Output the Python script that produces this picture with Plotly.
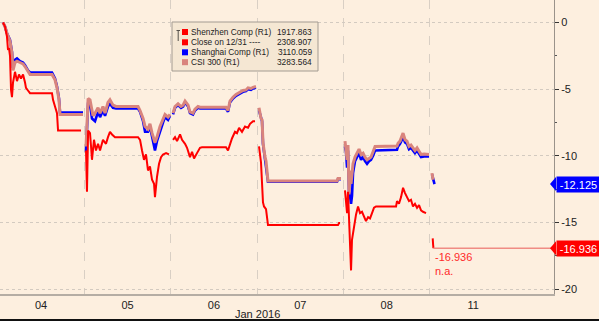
import plotly.graph_objects as go

# ---------------- data (x = trading-day position, 0 = Jan 04 open; y = % change vs 12/31 close)
day_labels = ["04", "05", "06", "07", "08", "11"]
day_centers = [0.5, 1.5, 2.5, 3.5, 4.5, 5.5]
day_bounds = [1, 2, 3, 4, 5]
month_label = "Jan 2016"
y_ticks = [0, -5, -10, -15, -20]

shenzhen_pos = [0.059, 0.082, 0.105, 0.117, 0.128, 0.140, 0.152, 0.163, 0.175, 0.198, 0.221, 0.244, 0.267,
                0.291, 0.314, 0.325, 0.348, 0.372, 0.626, 0.638, 0.661, 0.684, 0.696, 0.962, None,
                1.020, 1.031, 1.044, 1.066, 1.078, 1.089, 1.112, 1.135, 1.159, 1.182, 1.216, 1.251, 1.274,
                1.297, 1.321, 1.355, 1.622, 1.645, 1.668, 1.691, 1.714, 1.737, 1.760, 1.784, 1.807, 1.818,
                1.841, 1.865, 1.888, 1.911, 1.946, 1.980, None,
                2.027, 2.050, 2.073, 2.108, 2.131, 2.166, 2.189, 2.223, 2.247, 2.270, 2.304, 2.339, 2.362,
                2.640, 2.663, 2.686, 2.709, 2.744, 2.767, 2.791, 2.825, 2.860, 2.895, 2.918, 2.953, 2.976, None,
                3.022, 3.045, 3.068, 3.080, 3.103, 3.126, 3.936, 3.948, 3.960, None,
                4.017, 4.029, 4.041, 4.052, 4.064, 4.075, 4.087, 4.098, 4.110, 4.122, 4.133, 4.145, 4.168,
                4.191, 4.214, 4.237, 4.260, 4.284, 4.307, 4.330, 4.353, 4.376, 4.608, 4.619, 4.642, 4.666,
                4.689, 4.712, 4.735, 4.758, 4.781, 4.804, 4.827, 4.851, 4.874, 4.897, 4.920, 4.955, None,
                5.032, 5.040]
shenzhen_pct = [0, -0.3, -1.06, -2.06, -1.9, -2.5, -5.06, -5.6, -4.5, -3.7, -4.4, -3.9, -4.2,
                -3.9, -4.5, -4.9, -5.1, -5.3, -5.3, -5.8, -6.3, -6.8, -8.1, -8.1, None,
                -9.6, -12.7, -8.1, -8.3, -9.3, -10.3, -8.8, -9.6, -9.1, -9.6, -8.8, -9.1, -8.6,
                -8.2, -8.4, -8.6, -8.6, -8.8, -9.6, -10.3, -9.9, -11.1, -10.8, -11.8, -12.1, -13.1,
                -11.6, -10.6, -10.1, -9.9, -9.8, -9.9, None,
                -8.8, -8.6, -8.9, -8.4, -8.8, -9.1, -9.4, -10.1, -9.7, -10.2, -9.8, -9.4, -9.36,
                -9.36, -9.6, -9.1, -8.7, -8.2, -8.3, -7.9, -8.2, -7.8, -7.9, -7.6, -7.4, -7.4, None,
                -9.3, -10.5, -13.5, -13.8, -14.0, -15.2, -15.2, -15.05, -15.05, None,
                -12.6, -13.6, -14.3, -12.7, -15.3, -16.8, -18.6, -16.3, -15.8, -15.1, -14.8, -14.4, -13.8,
                -14.3, -14.2, -14.6, -14.9, -14.6, -14.7, -14.3, -13.9, -13.8, -13.8, -13.4, -13.6, -13.1,
                -12.4, -12.8, -13.1, -13.4, -13.3, -13.8, -13.6, -13.9, -13.7, -14.1, -14.2, -14.3, None,
                -16.2, -16.936]

csi300_pos = [0.059, 0.082, 0.105, 0.140, 0.163, 0.175, 0.198, 0.221, 0.256, 0.291, 0.314, 0.348, 0.372,
              0.626, 0.661, 0.684, 0.707, 0.719, 0.985, None,
              1.020, 1.044, 1.066, 1.089, 1.101, 1.124, 1.159, 1.182, 1.216, 1.240, 1.274, 1.297, 1.332,
              1.367, 1.622, 1.645, 1.680, 1.703, 1.737, 1.760, 1.784, 1.818, 1.841, 1.876, 1.911, 1.934,
              1.969, 1.992, None,
              2.027, 2.050, 2.085, 2.119, 2.143, 2.166, 2.201, 2.223, 2.258, 2.281, 2.316, 2.339, 2.640,
              2.663, 2.686, 2.721, 2.756, 2.779, 2.814, 2.837, 2.872, 2.895, 2.929, 2.953, 2.987, None,
              3.022, 3.045, 3.057, 3.068, 3.091, 3.103, 3.126, 3.925, 3.936, 3.971, None,
              4.017, 4.029, 4.041, 4.052, 4.064, 4.075, 4.087, 4.110, 4.133, 4.156, 4.180, 4.203, 4.226,
              4.249, 4.272, 4.295, 4.318, 4.342, 4.365, 4.619, 4.631, 4.654, 4.689, 4.712, 4.735, 4.758,
              4.781, 4.804, 4.827, 4.851, 4.874, 4.897, 4.932, 4.990, None,
              5.024, 5.036]
csi300_pct = [0, -0.3, -0.8, -1.4, -2.3, -3.6, -3.0, -2.9, -3.0, -3.1, -3.3, -3.7, -3.9,
              -3.9, -4.3, -4.9, -5.8, -6.9, -6.9, None,
              -9.3, -5.7, -5.8, -6.8, -7.0, -6.8, -6.4, -6.8, -6.3, -6.8, -6.0, -5.8, -6.2,
              -6.3, -6.3, -6.6, -7.2, -7.8, -8.0, -7.6, -8.3, -9.0, -8.6, -7.8, -7.3, -6.9,
              -7.1, -6.9, None,
              -6.8, -6.3, -6.1, -6.3, -6.2, -5.9, -6.2, -6.7, -6.8, -6.5, -6.3, -6.35, -6.35,
              -6.6, -5.9, -5.6, -5.4, -5.3, -5.2, -5.1, -5.06, -4.9, -4.95, -4.86, -4.8, None,
              -6.4, -7.2, -7.3, -9.0, -10.1, -10.4, -11.9, -11.9, -11.7, -11.7, None,
              -8.9, -9.7, -10.3, -9.2, -12.9, -11.1, -12.1, -10.6, -10.1, -9.8, -9.5, -9.9, -9.8,
              -10.1, -10.3, -10.2, -10.1, -9.7, -9.3, -9.26, -9.06, -8.9, -8.3, -8.8, -8.9, -9.3,
              -9.2, -9.4, -9.6, -9.4, -9.7, -9.9, -9.87, -9.9, None,
              -11.3, -11.8]

shanghai_pos = [0.059, 0.082, 0.105, 0.140, 0.163, 0.175, 0.198, 0.221, 0.256, 0.291, 0.314, 0.348, 0.372,
                0.626, 0.661, 0.684, 0.707, 0.719, 0.985, None,
                1.020, 1.044, 1.066, 1.089, 1.124, 1.159, 1.182, 1.216, 1.240, 1.274, 1.297, 1.332,
                1.367, 1.622, 1.645, 1.680, 1.703, 1.737, 1.760, 1.784, 1.818, 1.841, 1.876, 1.911, 1.934,
                1.969, 1.992, None,
                2.027, 2.050, 2.085, 2.119, 2.143, 2.166, 2.201, 2.223, 2.258, 2.281, 2.316, 2.339, 2.640,
                2.663, 2.686, 2.721, 2.756, 2.779, 2.814, 2.837, 2.872, 2.895, 2.929, 2.953, 2.987, None,
                3.022, 3.045, 3.057, 3.068, 3.091, 3.103, 3.126, 3.925, 3.936, 3.971, None,
                4.017, 4.029, 4.041, 4.052, 4.064, 4.075, 4.087, 4.098, 4.110, 4.133, 4.156, 4.180, 4.203,
                4.226, 4.249, 4.272, 4.295, 4.318, 4.342, 4.365, 4.619, 4.631, 4.654, 4.689, 4.712, 4.735,
                4.758, 4.781, 4.804, 4.827, 4.851, 4.874, 4.897, 4.932, 4.990, None,
                5.024, 5.053]
shanghai_pct = [0, -0.3, -0.8, -1.3, -2.2, -3.4, -2.8, -2.7, -2.9, -3.0, -3.2, -3.6, -3.75,
                -3.75, -4.2, -4.8, -5.7, -6.75, -6.75, None,
                -9.7, -6.0, -6.1, -7.2, -7.4, -6.7, -7.1, -6.6, -7.0, -6.3, -6.1, -6.4,
                -6.45, -6.45, -6.7, -7.4, -8.2, -8.2, -7.8, -8.6, -9.6, -8.9, -8.1, -7.5, -7.1,
                -7.3, -7.0, None,
                -6.9, -6.4, -6.2, -6.4, -6.3, -6.0, -6.3, -6.8, -6.9, -6.6, -6.4, -6.45, -6.45,
                -6.7, -6.0, -5.7, -5.5, -5.4, -5.3, -5.2, -5.15, -5.0, -5.05, -4.95, -4.9, None,
                -6.6, -7.3, -7.4, -9.1, -10.2, -10.5, -11.95, -11.95, -11.75, -11.75, None,
                -9.3, -9.7, -10.9, -9.6, -12.7, -13.0, -13.6, -13.0, -11.3, -10.4, -10.1, -9.8, -10.3,
                -10.1, -10.4, -10.6, -10.4, -10.3, -10.0, -9.6, -9.55, -9.3, -9.1, -8.6, -9.0, -9.1,
                -9.5, -9.4, -9.6, -9.8, -9.6, -9.9, -10.1, -10.05, -10.05, None,
                -11.4, -12.125]

shenzhen_last = -16.936
shanghai_last = -12.125
legend_names = ["Shenzhen Comp (R1)", "Close on 12/31 ----", "Shanghai Comp (R1)", "CSI 300 (R1)"]
legend_values = ["1917.863", "2308.907", "3110.059", "3283.564"]

# ---------------- styling
W, H = 599, 321
ML, MR, MT, MB = 0, 45, 0, 27
PW, PH = W - ML - MR, H - MT - MB
X_RANGE = [0.0243, 6.436]
Y_RANGE = [-20.37, 1.69]
PX_PER_UNIT = PH / (Y_RANGE[1] - Y_RANGE[0])
BG = "#FDEFDF"
RED = "#FF0000"
BLUE = "#0000FF"
SALMON = "#D9847D"
FONT = "Liberation Sans, Arial, sans-serif"
legend_colors = [RED, RED, BLUE, SALMON]


def px(x):
    return (x - ML) / PW


def py(y):
    return 1 - (y - MT) / PH


fig = go.Figure()
fig.add_trace(go.Scatter(x=shanghai_pos, y=shanghai_pct, mode="lines", connectgaps=False,
                         line=dict(color=BLUE, width=2.6), showlegend=False, hoverinfo="skip"))
fig.add_trace(go.Scatter(x=csi300_pos, y=csi300_pct, mode="lines", connectgaps=False,
                         line=dict(color=SALMON, width=3), showlegend=False, hoverinfo="skip"))
fig.add_trace(go.Scatter(x=shenzhen_pos, y=shenzhen_pct, mode="lines", connectgaps=False,
                         line=dict(color=RED, width=2), showlegend=False, hoverinfo="skip"))
fig.add_trace(go.Scatter(x=[shenzhen_pos[-1], X_RANGE[1]], y=[shenzhen_last, shenzhen_last], mode="lines",
                         line=dict(color="#F08C84", width=1.5), showlegend=False, hoverinfo="skip"))

shapes = []
# legend box
shapes.append(dict(type="rect", xref="paper", yref="paper", x0=px(172), x1=px(318), y0=py(71), y1=py(22),
                   fillcolor="#F5E7D3", line=dict(color="#A39B92", width=1), layer="above"))
# little bracket glyph
shapes.append(dict(type="path", xref="paper", yref="paper", layer="above",
                   path=f"M {px(176.5)} {py(30.5)} L {px(180)} {py(30.5)} M {px(178.2)} {py(30.5)} L {px(178.2)} {py(41)}",
                   line=dict(color="#55504A", width=1)))
line_y = [32, 42.3, 52.3, 62.2]
annotations = []
for name, val, col, yy in zip(legend_names, legend_values, legend_colors, line_y):
    shapes.append(dict(type="rect", xref="paper", yref="paper", x0=px(182), x1=px(188), y0=py(yy + 3),
                       y1=py(yy - 3), fillcolor=col, line=dict(width=0), layer="above"))
    annotations.append(dict(xref="paper", yref="paper", x=px(189), y=py(yy), xanchor="left", yanchor="middle",
                            text=name, showarrow=False, font=dict(family=FONT, size=8.3, color="#222")))
    annotations.append(dict(xref="paper", yref="paper", x=px(313.5), y=py(yy), xanchor="right", yanchor="middle",
                            text=val, showarrow=False, font=dict(family=FONT, size=8.3, color="#222")))

# bottom black rule
shapes.append(dict(type="line", xref="paper", yref="paper", x0=-0.01, x1=2, y0=py(320), y1=py(320),
                   line=dict(color="#111", width=2)))

# pointers of the last-value tags
half = 7 / PX_PER_UNIT
for val, col in [(shanghai_last, BLUE), (shenzhen_last, RED)]:
    shapes.append(dict(type="path", xref="paper", yref="y", layer="above", fillcolor=col, line=dict(width=0),
                       path=f"M {px(550)} {val} L {px(556)} {val + half} L {px(556)} {val - half} Z"))

# month label
annotations.append(dict(xref="x", yref="paper", x=3.0, y=py(314), xanchor="center", yanchor="middle",
                        text=month_label, showarrow=False, font=dict(family=FONT, size=11, color="#222")))
# last value tags on the right axis
for val, col in [(shanghai_last, BLUE), (shenzhen_last, RED)]:
    annotations.append(dict(xref="paper", yref="y", x=px(556), y=val, xanchor="left", yanchor="middle",
                            text=f"{val:.3f}", showarrow=False, bgcolor=col, borderpad=1, height=13, width=41,
                            font=dict(family=FONT, size=11, color="white")))
# in-plot label of the last Shenzhen value
annotations.append(dict(xref="x", yref="y", x=shenzhen_pos[-1], y=shenzhen_last, xanchor="left", yanchor="top",
                        text=f"{shenzhen_last:.3f}<br>n.a.", showarrow=False, align="left", yshift=-1,
                        font=dict(family=FONT, size=11, color="#FF2A2A")))

fig.update_layout(
    width=W, height=H, margin=dict(l=ML, r=MR, t=MT, b=MB),
    paper_bgcolor=BG, plot_bgcolor=BG, showlegend=False,
    shapes=shapes, annotations=annotations,
    xaxis=dict(range=X_RANGE, tickmode="array", tickvals=day_centers, ticktext=day_labels,
               showgrid=False, zeroline=False, ticks="", showline=True, linecolor="#B5ADA4", linewidth=2,
               tickfont=dict(family=FONT, size=11, color="#222"),
               minor=dict(tickmode="array", tickvals=day_bounds, showgrid=True, gridcolor="#D9CFC4",
                          griddash="dash", gridwidth=1, ticks="")),
    yaxis=dict(range=Y_RANGE, side="right", tickmode="array", tickvals=y_ticks,
               ticktext=[str(v) for v in y_ticks], showgrid=True, gridcolor="#D3CAC0", griddash="dot",
               gridwidth=1, zeroline=False, showline=True, linecolor="#9A928A", linewidth=1,
               ticks="outside", ticklen=4, tickcolor="#333",
               tickfont=dict(family=FONT, size=11, color="#222"),
               minor=dict(tickvals=[-2.5, -7.5, -12.5, -17.5], ticks="outside", ticklen=2, tickcolor="#555")),
)

fig.write_html("out.html")
